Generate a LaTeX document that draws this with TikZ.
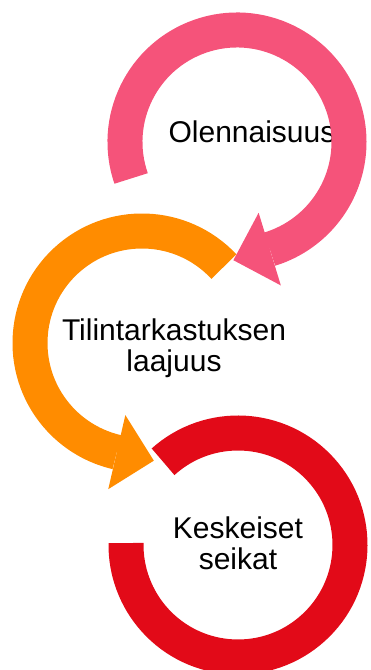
\documentclass[tikz,border=0pt]{standalone}
\usepackage{fontspec}
\setmainfont{Liberation Sans}
\usetikzlibrary{arrows.meta}

\definecolor{olenpink}{RGB}{245,83,122}
\definecolor{laajorange}{RGB}{255,140,0}
\definecolor{seikred}{RGB}{226,10,24}

\begin{document}
\begin{tikzpicture}
    [x=1pt, y=1pt,
    ring/.style={line width=35pt},
    ringhead/.style={-{Triangle[length=38pt, width=76pt, line width=0pt]}},
    lbl/.style={font=\fontsize{30}{31}\selectfont, align=center, anchor=base}]
  \useasboundingbox (0,0) rectangle (370,670);

  \coordinate (olenc) at (237,528);
  \coordinate (laajc) at (142,327);
  \coordinate (seikc) at (238,125);

  \node [lbl] (olen) at (252,527) {Olennaisuus};
  \node [lbl] (laaj) at (174,298) {Tilintarkastuksen\\laajuus};
  \node [lbl] (seik) at (238,100) {Keskeiset\\seikat};

  \draw [ring, ringhead, draw=olenpink]
    ([shift={(199:112)}]olenc) arc [start angle=199, end angle=-73, radius=112]
    -- ++(-163:38);
  \draw [ring, ringhead, draw=laajorange]
    ([shift={(43:112)}]laajc) arc [start angle=43, end angle=257, radius=112]
    -- ++(347:38);
  \draw [ring, draw=seikred]
    ([shift={(132:112)}]seikc) arc [start angle=132, end angle=-181, radius=112];
\end{tikzpicture}
\end{document}
